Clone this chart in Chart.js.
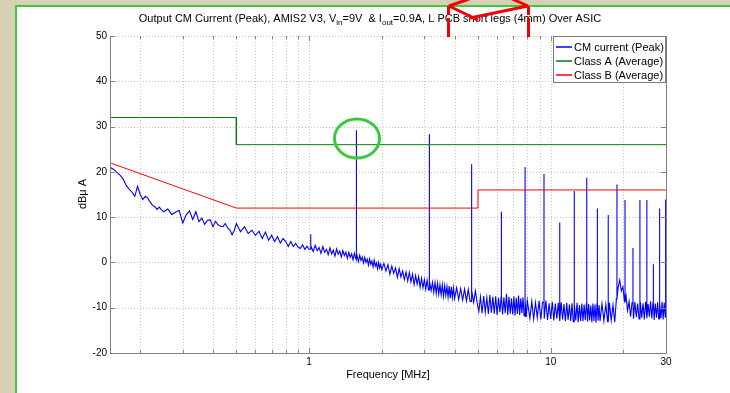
<!DOCTYPE html>
<html>
<head>
<meta charset="utf-8">
<title>Output CM Current (Peak)</title>
<script src="https://cdn.jsdelivr.net/npm/chart.js@4.4.0/dist/chart.umd.min.js"></script>
<style>
  html, body { margin: 0; padding: 0; width: 730px; height: 393px; overflow: hidden; background: #d6d0b6; }
  #frame { position: absolute; left: 15px; top: 5px; width: 800px; height: 500px; background: #fff;
           border-left: 2px solid #3ec83a; border-top: 2px solid #3ec83a; }
  #chart { position: absolute; left: 0; top: 0; }
</style>
</head>
<body>
<div id="frame"></div>
<canvas id="chart" width="730" height="393"></canvas>
<script>
// --- measured spectrum (noise floor), MHz / dBuA ---
const noiseFreq = [
  0.150,0.155,0.160,0.165,0.170,0.175,0.180,0.185,0.190,0.195,0.200,0.205,0.210,0.215,0.220,0.225,0.230,0.235,0.240,0.245,0.250,
  0.26,0.27,0.28,0.29,0.30,0.31,0.32,0.33,0.34,0.35,0.36,0.37,0.38,0.39,0.40,0.41,0.42,0.43,0.44,0.45,0.46,0.47,0.48,0.49,0.50,
  0.52,0.54,0.56,0.58,0.60,0.62,0.64,0.66,0.68,0.70,0.72,0.74,0.76,0.78,0.80,0.82,0.84,0.86,0.88,0.90,0.92,0.94,0.96,0.98,1.00,
  1.02,1.04,1.06,1.08,1.10,1.12,1.14,1.16,1.18,1.20,1.22,1.24,1.26,1.28,1.30,1.32,1.34,1.36,1.38,1.40,1.42,1.44,1.46,1.48,1.50,
  1.52,1.54,1.56,1.58,1.60,1.62,1.64,1.66,1.68,1.70,1.72,1.74,1.76,1.78,1.80,1.82,1.84,1.86,1.88,1.90,1.92,1.94,1.96,1.98,2.00,
  2.04,2.08,2.12,2.16,2.20,2.24,2.28,2.32,2.36,2.40,2.44,2.48,2.52,2.56,2.60,2.64,2.68,2.72,2.76,2.80,2.84,2.88,2.92,2.96,3.00,
  3.04,3.08,3.12,3.16,3.20,3.24,3.28,3.32,3.36,3.40,3.44,3.48,3.52,3.56,3.60,3.64,3.68,3.72,3.76,3.80,3.84,3.88,3.92,3.96,4.00,
  4.08,4.16,4.24,4.32,4.40,4.48,4.56,4.64,4.72,4.80,4.88,4.96,5.04,5.12,5.20,5.28,5.36,5.44,5.52,5.60,5.68,5.76,5.84,5.92,6.00,
  6.08,6.16,6.24,6.32,6.40,6.48,6.56,6.64,6.72,6.80,6.88,6.96,7.04,7.12,7.20,7.28,7.36,7.44,7.52,7.60,7.68,7.76,7.84,7.92,8.00,
  8.20,8.35,8.50,8.65,8.80,8.95,9.10,9.25,9.40,9.55,9.70,9.85,10.00,10.15,10.30,10.45,10.60,10.75,10.90,11.05,11.20,11.35,11.50,11.65,11.80,11.95,
  12.10,12.25,12.40,12.55,12.70,12.85,13.00,13.15,13.30,13.45,13.60,13.75,13.90,14.05,14.20,14.35,14.50,14.65,14.80,14.95,15.10,15.25,15.40,15.55,15.70,15.85,16.00,
  16.3,16.6,16.9,17.2,17.5,17.8,18.1,18.4,18.7,19.0,19.3,19.6,19.9,20.2,20.5,20.8,21.1,21.4,21.7,22.0,22.3,22.6,22.9,23.2,23.5,
  23.8,24.1,24.4,24.7,25.0,25.3,25.6,25.9,26.2,26.5,26.8,27.1,27.4,27.7,28.0,28.3,28.6,28.9,29.2,29.5,29.8,30.0
];
const noiseLevel = [
  21.0,20.6,19.9,19.3,18.4,17.0,16.2,15.5,14.6,16.8,15.0,13.9,14.6,14.2,13.3,12.6,12.3,11.7,12.2,11.6,11.2,
  11.8,10.6,11.1,11.5,8.7,10.5,11.4,9.5,11.2,9.0,9.8,8.4,9.3,9.4,7.9,9.1,8.3,8.0,7.9,8.6,7.6,7.2,6.1,7.0,8.6,
  6.8,7.9,6.4,7.1,6.0,6.9,5.3,6.7,4.9,6.0,4.6,5.7,4.3,5.3,4.6,3.5,4.6,3.5,4.2,3.4,3.1,3.9,2.9,3.6,2.9,
  3.5,2.4,3.8,2.6,3.3,2.0,3.5,2.2,2.9,1.7,3.2,1.9,2.7,1.4,3.0,1.8,2.5,1.2,2.6,1.5,2.3,0.9,2.2,1.1,1.9,
  0.6,2.0,0.8,1.5,0.2,1.6,0.4,1.2,-0.1,1.1,0.0,0.7,-0.6,0.8,-0.4,0.3,-1.0,0.5,-0.8,-0.1,-1.4,0.0,-1.2,-0.4,-1.6,
  -0.2,-1.9,-0.5,-2.6,-0.8,-2.4,-1.2,-3.3,-1.4,-3.2,-1.9,-3.8,-2.1,-4.1,-2.2,-4.3,-2.6,-4.9,-2.9,-4.8,-3.1,-5.5,-3.5,-5.6,-3.8,
  -5.9,-3.9,-6.1,-4.1,-6.2,-4.4,-6.6,-4.4,-6.9,-4.6,-7.0,-4.9,-7.2,-4.9,-7.5,-5.1,-7.3,-5.3,-7.7,-5.2,-7.9,-5.4,-7.8,-5.6,-8.0,
  -5.6,-8.2,-5.8,-8.3,-5.9,-8.5,-6.0,-8.6,-6.2,-8.8,-6.3,-8.9,-10.8,-7.6,-11.2,-7.4,-11.0,-7.8,-11.4,-7.2,-11.1,-7.6,-11.3,-7.5,-11.6,
  -7.8,-11.0,-7.4,-11.5,-7.7,-11.2,-6.9,-11.6,-7.6,-11.3,-7.9,-11.5,-7.5,-11.7,-7.8,-11.4,-7.3,-11.6,-7.9,-11.2,-7.7,-11.8,-8.3,-12.1,-8.4,
  -12.3,-8.6,-12.5,-8.9,-12.2,-8.5,-12.6,-8.8,-12.4,-8.4,-12.7,-9.0,-12.5,-8.7,-12.8,-9.1,-12.4,-8.9,-12.9,-8.8,-12.6,-9.2,-13.0,-8.9,-12.7,-9.3,
  -12.9,-9.0,-13.1,-9.2,-12.8,-8.9,-13.2,-9.4,-12.9,-9.1,-13.0,-9.3,-12.7,-9.0,-13.1,-9.2,-12.8,-9.5,-13.2,-9.1,-12.9,-9.3,-13.3,-9.0,-12.8,-9.4,-13.0,
  -9.1,-12.9,-9.3,-13.1,-8.9,-12.8,-9.4,-13.2,-8.0,-5.6,-3.9,-6.3,-5.4,-8.7,-7.4,-10.6,-8.6,-12.0,-8.9,-12.4,-8.7,-12.1,-9.1,-12.5,-8.8,
  -12.2,-9.0,-12.6,-8.7,-12.3,-9.2,-12.0,-8.6,-12.4,-8.9,-12.7,-9.1,-12.2,-8.8,-12.5,-9.0,-12.3,-8.7,-12.6,-8.9,-12.1,-9.5
];
// --- narrow emission peaks on top of the floor ---
const spikeFreq = [1.016, 1.57, 3.14, 4.70, 6.25, 7.83, 9.38, 10.9, 12.5, 14.1, 15.6, 17.3, 18.8, 20.3, 21.9, 23.4, 25.0, 26.6, 28.2, 29.9];
const spikePeak = [6.2, 29.2, 28.3, 21.7, 11.2, 21.1, 19.5, 8.8, 15.8, 18.7, 11.9, 10.5, 17.2, 13.8, 3.2, 13.8, 13.8, -0.4, 11.9, 13.9];
// --- limit lines ---
const classAFreq = [0.15, 0.5, 0.5, 30];
const classALevel = [32, 32, 26, 26];
const classBFreq = [0.15, 0.5, 5, 5, 30];
const classBLevel = [22, 12, 12, 16, 16];
// --- axes ---
const xGridVals = [0.2, 0.3, 0.4, 0.5, 0.6, 0.7, 0.8, 0.9, 1, 2, 3, 4, 5, 6, 7, 8, 9, 10, 20, 30];
const xLabelVals = [1, 10, 30];
const yTicks = [-20, -10, 0, 10, 20, 30, 40, 50];
const seriesNames = ['CM current (Peak)', 'Class A (Average)', 'Class B (Average)'];

const BLUE = '#0000ff', GREEN = '#008000', RED = '#ff0000';
const FONT = '"Liberation Sans", Arial, sans-serif';

// build the peak trace: floor + vertical spikes
const cmPoints = noiseFreq.map((f, i) => ({ x: f, y: noiseLevel[i] }));
spikeFreq.forEach((f, i) => {
  let base = noiseLevel[0];
  noiseFreq.forEach((g, j) => { if (g <= f) base = noiseLevel[j]; });
  cmPoints.push({ x: f, y: base }, { x: f, y: spikePeak[i] }, { x: f, y: base });
});
cmPoints.sort((a, b) => a.x - b.x);

const toPts = (fs, vs) => fs.map((f, i) => ({ x: f, y: vs[i] }));

function line(ctx, x1, y1, x2, y2) {
  ctx.beginPath(); ctx.moveTo(x1, y1); ctx.lineTo(x2, y2); ctx.stroke();
}

// --- dotted grid (under the data) ---
const gridPlugin = {
  id: 'dottedGrid',
  beforeDatasetsDraw(chart) {
    const { ctx, chartArea: a, scales: { x, y } } = chart;
    ctx.save();
    ctx.strokeStyle = '#c6c6c6';
    ctx.lineWidth = 1;
    ctx.setLineDash([1, 2]);
    xGridVals.forEach(v => {
      const px = Math.round(x.getPixelForValue(v)) + 0.5;
      line(ctx, px, a.top, px, a.bottom);
    });
    yTicks.forEach(v => {
      const py = Math.round(y.getPixelForValue(v)) + 0.5;
      line(ctx, a.left, py, a.right, py);
    });
    ctx.restore();
  }
};

// --- axis lines and inward ticks (over the data) ---
const axesPlugin = {
  id: 'axesBox',
  afterDatasetsDraw(chart) {
    const { ctx, chartArea: a, scales: { x, y } } = chart;
    ctx.save();
    ctx.lineWidth = 1;
    ctx.strokeStyle = '#828282';
    ctx.beginPath();
    ctx.moveTo(a.left + 0.5, a.top);
    ctx.lineTo(a.left + 0.5, a.bottom + 0.5);
    ctx.lineTo(a.right + 0.5, a.bottom + 0.5);
    ctx.lineTo(a.right + 0.5, a.top);
    ctx.stroke();
    yTicks.forEach(v => {
      const py = Math.round(y.getPixelForValue(v)) + 0.5;
      line(ctx, a.left, py, a.left + 5, py);
      line(ctx, a.right - 5, py, a.right, py);
    });
    xGridVals.forEach(v => {
      const px = Math.round(x.getPixelForValue(v)) + 0.5;
      const len = xLabelVals.includes(v) ? 5 : 3;
      line(ctx, px, a.bottom, px, a.bottom - len);
      line(ctx, px, a.top, px, a.top + len);
    });
    ctx.restore();
  }
};

// --- title, axis labels, legend, hand-drawn marks ---
const textPlugin = {
  id: 'labels',
  afterDraw(chart) {
    const { ctx, chartArea: a } = chart;
    ctx.save();
    ctx.fillStyle = '#000';

    // title with subscripts
    const parts = [
      ['Output CM Current (Peak), AMIS2 V3, V', false], ['in', true],
      ['=9V  & I', false], ['out', true],
      ['=0.9A, L PCB short legs (4mm) Over ASIC', false]
    ];
    const mainF = '11px ' + FONT, subF = '8px ' + FONT;
    let total = 0;
    parts.forEach(([t, s]) => { ctx.font = s ? subF : mainF; total += ctx.measureText(t).width; });
    let tx = 370 - total / 2;
    ctx.textBaseline = 'alphabetic';
    ctx.textAlign = 'left';
    parts.forEach(([t, s]) => {
      ctx.font = s ? subF : mainF;
      ctx.fillText(t, tx, s ? 25 : 22);
      tx += ctx.measureText(t).width;
    });

    // axis titles
    ctx.font = '11px ' + FONT;
    ctx.textAlign = 'center';
    ctx.textBaseline = 'middle';
    ctx.fillText('Frequency [MHz]', (a.left + a.right) / 2, 375);
    ctx.save();
    ctx.translate(83, 194);
    ctx.rotate(-Math.PI / 2);
    ctx.fillText('dB\u03bc A', 0, 0);
    ctx.restore();

    // legend box
    const lx = 553.5, ly = 36.5, lw = 112, lh = 46;
    ctx.fillStyle = '#fff';
    ctx.fillRect(lx, ly, lw, lh);
    ctx.strokeStyle = '#7a7a7a';
    ctx.lineWidth = 1;
    ctx.strokeRect(lx, ly, lw, lh);
    const colors = [BLUE, GREEN, RED];
    ctx.font = '11px ' + FONT;
    ctx.textAlign = 'left';
    seriesNames.forEach((name, i) => {
      const ry = 47 + i * 14;
      ctx.strokeStyle = colors[i];
      ctx.lineWidth = 1.5;
      line(ctx, 556, ry, 572, ry);
      ctx.fillStyle = '#000';
      ctx.fillText(name, 574, ry + 1);
    });

    // red marker: dashed verticals with arrow heads
    ctx.strokeStyle = '#f50000';
    ctx.lineWidth = 3;
    ctx.setLineDash([9, 3, 19, 3]);
    line(ctx, 448.5, 6, 448.5, 38);
    line(ctx, 528.5, 6, 528.5, 38);
    ctx.setLineDash([]);
    line(ctx, 449, 6, 469, -1);
    line(ctx, 449, 6, 478, 20);
    line(ctx, 528, 6, 512, -1);
    line(ctx, 528, 6, 470, 18);

    // green circle round the 1.5 MHz peak
    ctx.strokeStyle = '#3cc83c';
    ctx.lineWidth = 3;
    ctx.beginPath();
    ctx.ellipse(357, 138.5, 22.5, 19.5, 0, 0, Math.PI * 2);
    ctx.stroke();
    ctx.restore();
  }
};

new Chart(document.getElementById('chart'), {
  type: 'line',
  data: {
    datasets: [
      { label: seriesNames[1], data: toPts(classAFreq, classALevel), borderColor: GREEN, borderWidth: 1, pointRadius: 0, tension: 0 },
      { label: seriesNames[2], data: toPts(classBFreq, classBLevel), borderColor: RED, borderWidth: 1, pointRadius: 0, tension: 0 },
      { label: seriesNames[0], data: cmPoints, borderColor: BLUE, borderWidth: 1.1, pointRadius: 0, tension: 0 }
    ]
  },
  options: {
    responsive: false,
    animation: false,
    events: [],
    layout: { padding: { left: 0, top: 36, right: 64, bottom: 0 } },
    plugins: { legend: { display: false }, tooltip: { enabled: false }, title: { display: false } },
    scales: {
      x: {
        type: 'logarithmic',
        min: 0.15,
        max: 30,
        grid: { display: false, drawTicks: false },
        border: { display: false },
        afterBuildTicks: (s) => { s.ticks = xGridVals.map(v => ({ value: v })); },
        afterFit: (s) => { s.height = 40; },
        ticks: {
          autoSkip: false, maxRotation: 0, padding: 3, color: '#000',
          font: { size: 10, family: FONT },
          callback: (v) => xLabelVals.includes(v) ? String(v) : ''
        }
      },
      y: {
        type: 'linear',
        min: -20,
        max: 50,
        grid: { display: false, drawTicks: false },
        border: { display: false },
        afterFit: (s) => { s.width = 110; },
        ticks: { stepSize: 10, padding: 3, color: '#000', font: { size: 10, family: FONT } }
      }
    }
  },
  plugins: [gridPlugin, axesPlugin, textPlugin]
});
</script>
</body>
</html>
